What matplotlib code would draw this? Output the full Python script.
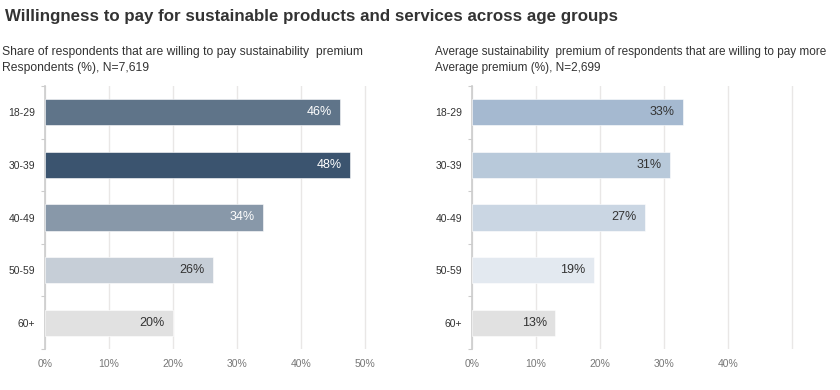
import matplotlib.pyplot as plt
import numpy as np

plt.rcParams['font.family'] = ['Liberation Sans', 'DejaVu Sans']

# data
age_groups = ["18-29", "30-39", "40-49", "50-59", "60+"]
share_willing = [46.1, 47.6, 34.1, 26.2, 19.9]
avg_premium = [33.0, 31.0, 27.0, 19.0, 13.0]
left_colors = ["#5f7489", "#3b546f", "#8898a9", "#c6ced7", "#e1e1e1"]
right_colors = ["#a5b9d0", "#b8c9da", "#cad6e3", "#e3e9f0", "#e1e1e1"]
left_label_colors = ["white", "white", "white", "#333333", "#333333"]
right_label_colors = ["#333333"] * 5
ticks = [0, 10, 20, 30, 40, 50]

fig = plt.figure(figsize=(8.4, 3.9), dpi=100)

fig.text(5 / 840, 1 - 16 / 390, "Willingness to pay for sustainable products and services across age groups",
         fontsize=12.2, fontweight='bold', color='#333333', va='center', ha='left')


def panel(rect, values, colors, label_colors, title1, title2, xmax, show_last, title_x, title_size):
    ax = fig.add_axes(rect)
    y = np.arange(len(values))
    ax.barh(y, values, height=0.5, color=colors, edgecolor='white', linewidth=0.4, zorder=3)
    for yi, v, lc in zip(y, values, label_colors):
        ax.text(v - 1.3, yi, "%d%%" % round(v), ha='right', va='center', fontsize=9, color=lc, zorder=4)
    ax.set_ylim(len(values) - 0.5, -0.5)
    ax.set_xlim(0, xmax)
    ax.set_xticks(ticks)
    labels = ["%d%%" % t for t in ticks]
    if not show_last:
        labels[-1] = ""
    ax.set_xticklabels(labels)
    ax.set_yticks(y)
    ax.set_yticklabels(age_groups)
    ax.set_yticks(np.arange(-0.5, len(values)), minor=True)
    ax.tick_params(axis='y', which='major', length=0, pad=7, labelsize=7.5, labelcolor='#333333')
    ax.tick_params(axis='y', which='minor', length=3, width=0.8, color='#cccccc', direction='out')
    ax.tick_params(axis='x', length=0, pad=7, labelsize=7.5, labelcolor='#777777')
    for s in ['top', 'right', 'bottom']:
        ax.spines[s].set_visible(False)
    ax.spines['left'].set_color('#cccccc')
    ax.spines['left'].set_linewidth(1.2)
    ax.grid(axis='x', color='#e9e7e6', linewidth=1, zorder=0)
    ax.set_axisbelow(True)
    fig.text(title_x / 840, 1 - 52 / 390, title1, fontsize=title_size, color='#333333', va='center', ha='left')
    fig.text(title_x / 840, 1 - 68 / 390, title2, fontsize=title_size, color='#333333', va='center', ha='left')
    return ax


panel([45 / 840, 1 - 349 / 390, 346 / 840, 263 / 390], share_willing, left_colors, left_label_colors,
      "Share of respondents that are willing to pay sustainability  premium",
      "Respondents (%), N=7,619", 54, True, 2, 8.7)
panel([472 / 840, 1 - 349 / 390, 322 / 840, 263 / 390], avg_premium, right_colors, right_label_colors,
      "Average sustainability  premium of respondents that are willing to pay more",
      "Average premium (%), N=2,699", 50.3, False, 435, 8.5)

fig.savefig("out.png", dpi=100)
